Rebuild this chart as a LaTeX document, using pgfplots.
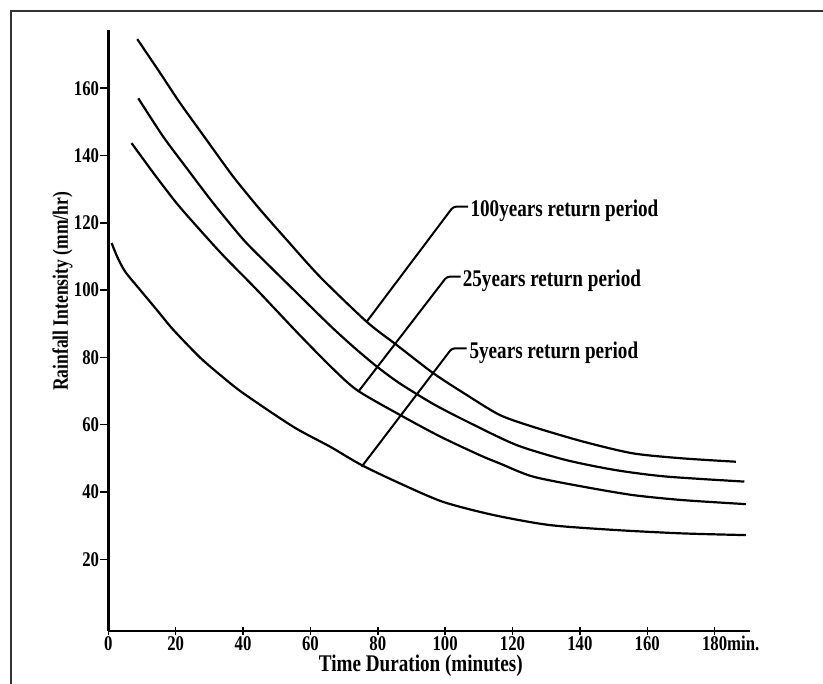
\documentclass[border=0pt]{standalone}
\usepackage{fontspec}
\setmainfont{Liberation Serif}[FakeStretch=0.8]
\usepackage{pgfplots}
\pgfplotsset{compat=1.18}
\tikzset{
  curve/.style={black, line width=2.2bp, mark=none, smooth, tension=0.45},
  lead/.style={black, line width=2bp, rounded corners=3bp},
  lab/.style={anchor=base west, inner sep=0pt, yshift=-10bp,
    font=\bfseries\fontsize{24}{24}\selectfont},
}
\begin{document}
\begin{tikzpicture}
\path[use as bounding box] (0bp,0bp) rectangle (823bp,684bp);
% page frame (top and left only)
\draw[line width=2bp, black!80] (11bp,0bp) -- (11bp,673bp) -- (823bp,673bp);
\begin{axis}[
  at={(108.3bp,53bp)}, anchor=south west,
  scale only axis, width=641.7bp, height=601bp,
  xmin=0, xmax=190.5, ymin=-1.3, ymax=177.3,
  axis x line=bottom, axis y line=left,
  axis line style={-},
  x axis line style={line width=2.4bp},
  y axis line style={line width=3.6bp},
  xtick={0,20,...,180}, ytick={20,40,...,160},
  xticklabels={0,20,40,60,80,100,120,140,160,{180\rlap{min.}}},
  xtick align=center, ytick align=outside,
  major tick length=8bp,
  tick style={black, line width=1.5bp},
  /pgf/number format/assume math mode=true,
  tick label style={font=\bfseries\fontsize{21}{21}\selectfont},
  xticklabel style={inner sep=1bp},
  yticklabel style={inner sep=1bp},
  xlabel={Time Duration (minutes)},
  ylabel={Rainfall Intensity (mm/hr)},
  xlabel style={at={(axis description cs:0.487,-0.0677)}, anchor=base,
    font=\bfseries\fontsize{24}{24}\selectfont},
  ylabel style={at={(axis description cs:-0.0714,0.565)}, anchor=center,
    font=\bfseries\fontsize{22}{22}\selectfont},
  clip=false,
]
% 100 years
\addplot[curve] coordinates {
  (8.6,174.6) (15.4,164.5) (21.3,155.6) (29.2,144.6) (37.1,133.7)
  (45.0,124.0) (53.0,114.9) (62.8,104.0) (76.7,90.6) (85.6,83.7)
  (96.5,75.3) (106.3,68.9) (116.2,62.9) (126.0,59.4) (140.9,55.0)
  (155.7,51.5) (170.5,50.0) (186.3,49.0)};
% 25 years
\addplot[curve] coordinates {
  (8.9,157.0) (16.3,145.6) (23.3,136.2) (31.2,125.8) (40.1,115.0)
  (47.0,108.0) (54.5,100.6) (65.8,89.5) (72.7,83.2) (79.7,77.3)
  (86.5,72.3) (96.4,66.2) (106.4,61.0) (121.1,54.0) (135.9,49.5)
  (150.7,46.5) (165.6,44.6) (188.8,43.1)};
% 5 years
\addplot[curve] coordinates {
  (6.9,143.7) (13.4,134.8) (20.3,125.8) (27.2,117.9) (34.1,110.3)
  (44.0,100.2) (56.0,87.5) (65.8,77.5) (73.8,70.3) (86.6,62.9)
  (98.5,56.5) (110.4,50.9) (116.2,48.5) (126.0,44.6) (140.9,41.6)
  (155.7,39.1) (170.5,37.6) (189.3,36.4)};
% lowest curve
\addplot[curve] coordinates {
  (1.0,114.0) (2.6,110.0) (5.0,105.5) (9.5,100.0) (14.5,94.0) (19.3,88.2)
  (27.2,80.0) (33.2,74.8) (40.0,69.4) (54.9,59.4)
  (65.8,53.5) (75.2,48.0) (86.5,42.6) (99.3,37.1) (114.2,33.2)
  (130.9,30.2) (150.7,28.7) (170.5,27.7) (189.3,27.2)};

% leader lines and labels
\draw[lead] (axis cs:76.7,90.6) -- (axis cs:102.4,124.8) -- (axis cs:106.8,124.8);
\draw[lead] (axis cs:74.2,69.8) -- (axis cs:100.5,104.0) -- (axis cs:104.6,104.0);
\draw[lead] (axis cs:75.2,47.5) -- (axis cs:102.0,82.7) -- (axis cs:106.4,82.7);
\node[lab] at (axis cs:107.5,124.8) {100years return period};
\node[lab] at (axis cs:105.2,104.0) {25years return period};
\node[lab] at (axis cs:107.2,82.7) {5years return period};
\end{axis}
\end{tikzpicture}
\end{document}
